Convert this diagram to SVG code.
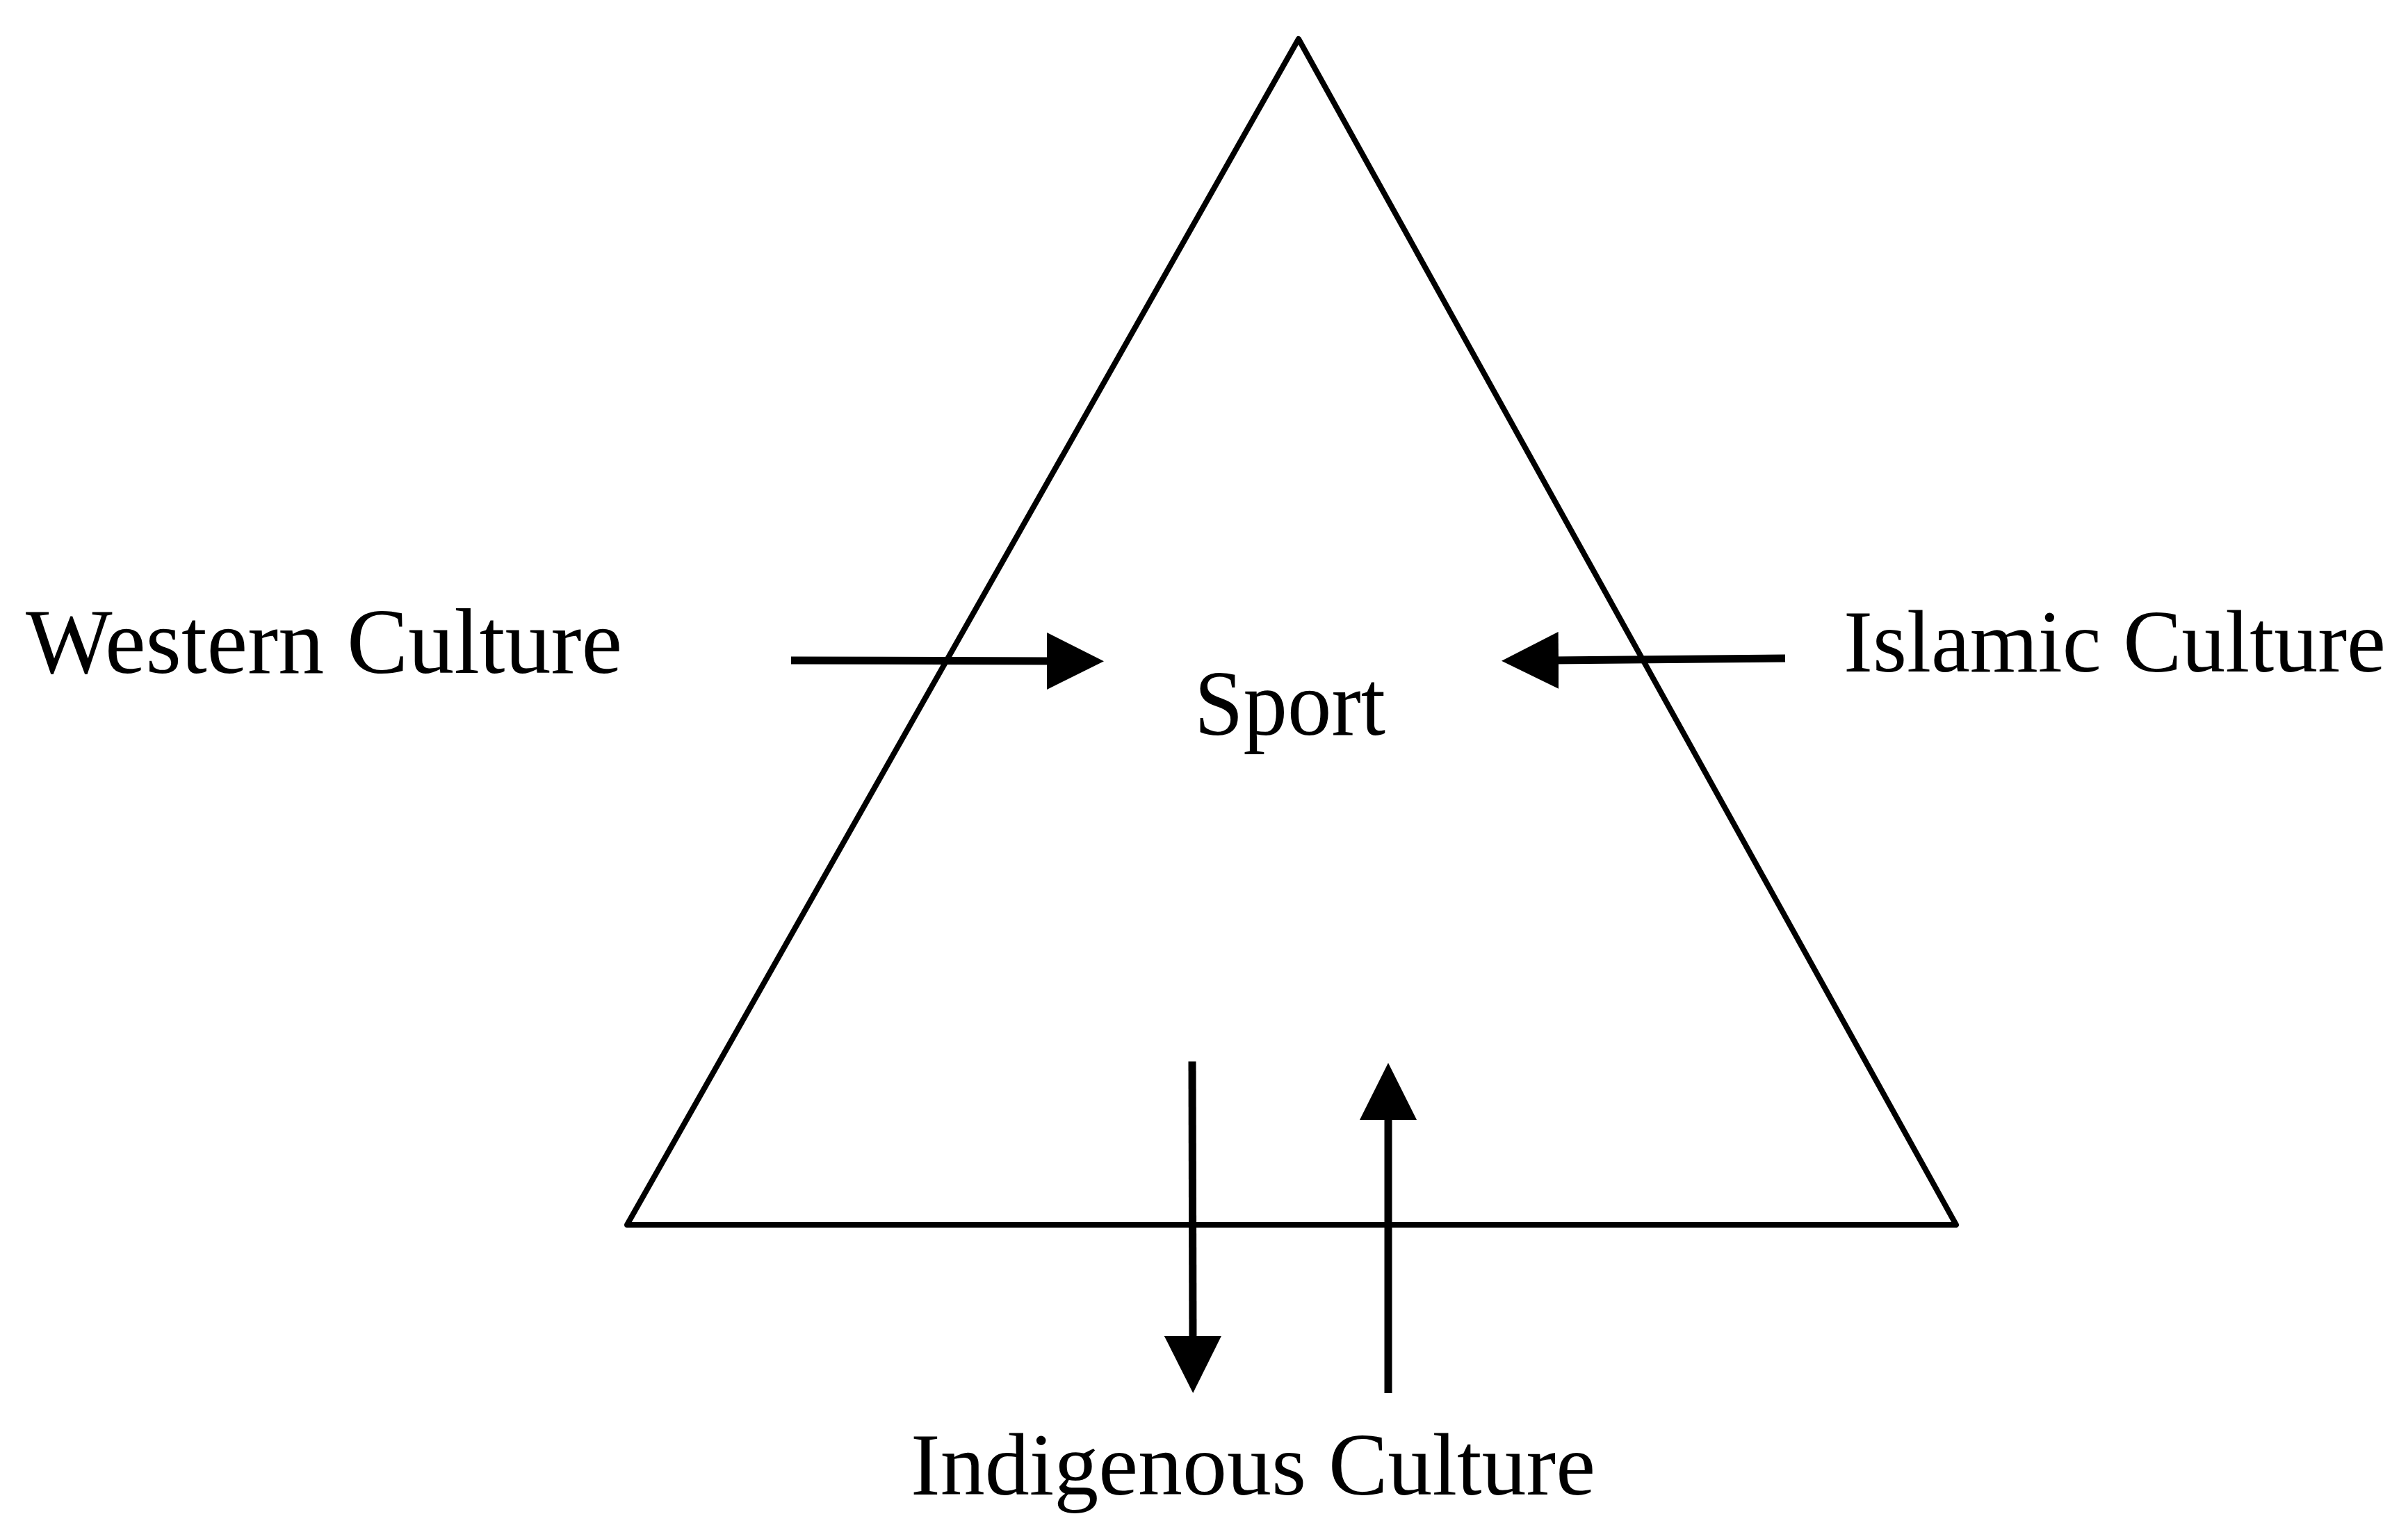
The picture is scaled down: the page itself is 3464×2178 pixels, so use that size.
<svg xmlns="http://www.w3.org/2000/svg" width="3464" height="2178" viewBox="0 0 3464 2178">
  <style>
    .lbl { font-family: "Liberation Serif", "Times New Roman", serif; font-size: 134px; fill: #000; }
    .tri { fill: none; stroke: #000; stroke-width: 8; stroke-linejoin: round; }
    .conn { fill: none; stroke: #000; stroke-width: 11; }
  </style>
  <defs>
    <marker id="head" viewBox="0 0 82 82" markerWidth="82" markerHeight="82" refX="10" refY="41" orient="auto" markerUnits="userSpaceOnUse">
      <path d="M0,0 L82,41 L0,82 Z" fill="#000"/>
    </marker>
  </defs>
  <rect width="3464" height="2178" fill="#fff"/>
  <g id="triangle">
    <polygon class="tri" points="1868,56 2814,1762 902,1762"/>
  </g>
  <g id="sport">
    <text class="lbl" x="1718" y="1057" textLength="275" lengthAdjust="spacingAndGlyphs">Sport</text>
  </g>
  <g id="western">
    <text class="lbl" x="37" y="968" textLength="858" lengthAdjust="spacingAndGlyphs">Western Culture</text>
  </g>
  <g id="islamic">
    <text class="lbl" x="2652" y="966" style="font-size:128px" textLength="780" lengthAdjust="spacingAndGlyphs">Islamic Culture</text>
  </g>
  <g id="indigenous">
    <text class="lbl" x="1310" y="2150" style="font-size:128px" textLength="985" lengthAdjust="spacingAndGlyphs">Indigenous Culture</text>
  </g>
  <g id="connectors">
    <path class="conn" d="M1138,950 L1516,951" marker-end="url(#head)"/>
    <path class="conn" d="M2568,947 L2232,950" marker-end="url(#head)"/>
    <path class="conn" d="M1715,1527 L1716,1932" marker-end="url(#head)"/>
    <path class="conn" d="M1997,2004 L1997,1601" marker-end="url(#head)"/>
  </g>
</svg>
